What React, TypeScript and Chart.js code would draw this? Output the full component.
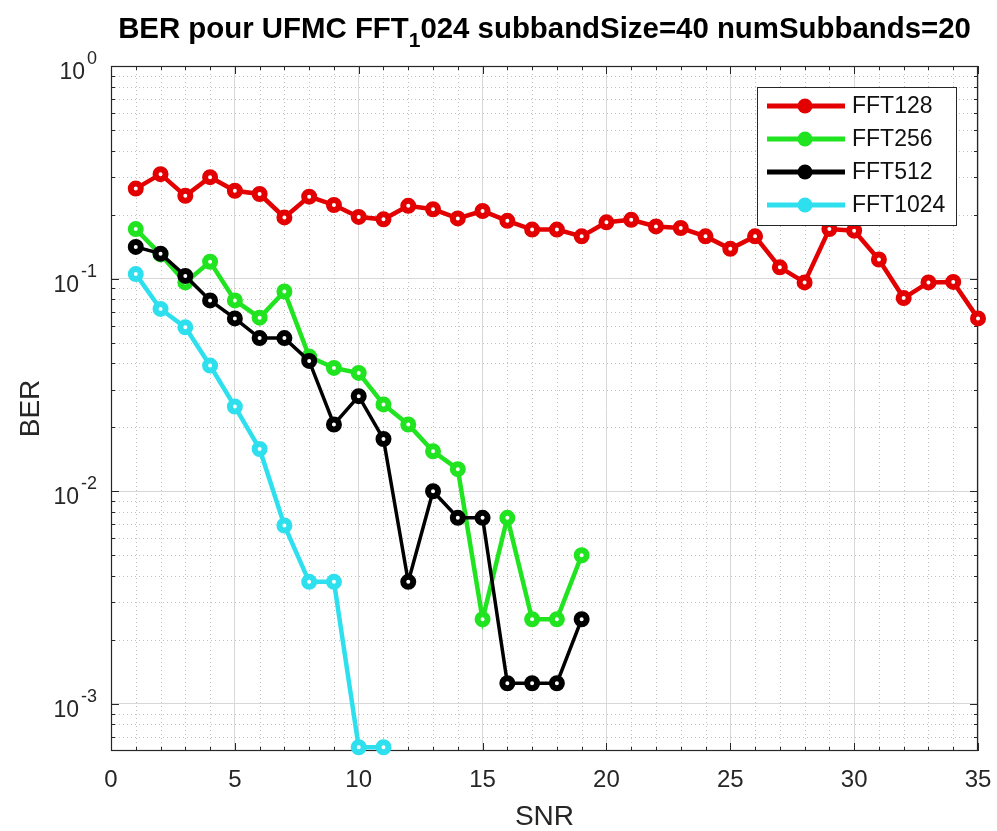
import React, { useEffect, useRef } from 'react';
import { Chart, registerables } from 'chart.js';

Chart.register(...registerables);

const FONT = '"Liberation Sans", Arial, Helvetica, sans-serif';

const snr = [1, 2, 3, 4, 5, 6, 7, 8, 9, 10, 11, 12, 13, 14, 15, 16, 17, 18, 19, 20, 21, 22, 23, 24, 25, 26, 27, 28, 29, 30, 31, 32, 33, 34, 35];

const berFFT128 = [0.265, 0.31, 0.245, 0.3, 0.259, 0.25, 0.194, 0.243, 0.222, 0.195, 0.19, 0.22, 0.212, 0.192, 0.208, 0.187, 0.17, 0.17, 0.158, 0.184, 0.189, 0.176, 0.173, 0.158, 0.138, 0.158, 0.113, 0.096, 0.171, 0.168, 0.123, 0.081, 0.096, 0.0965, 0.065];
const berFFT256 = [0.171, 0.13, 0.096, 0.12, 0.079, 0.0655, 0.087, 0.043, 0.038, 0.036, 0.0256, 0.0206, 0.0154, 0.0127, 0.0025, 0.0075, 0.0025, 0.0025, 0.005];
const berFFT512 = [0.141, 0.131, 0.103, 0.079, 0.065, 0.0525, 0.0525, 0.041, 0.0206, 0.028, 0.0176, 0.00375, 0.01, 0.0075, 0.0075, 0.00125, 0.00125, 0.00125, 0.0025];
const berFFT1024 = [0.105, 0.072, 0.059, 0.039, 0.025, 0.0158, 0.0069, 0.00375, 0.00375, 0.000625, 0.000625];

const seriesLabels = ['FFT128', 'FFT256', 'FFT512', 'FFT1024'];
const seriesColors = ['#e20000', '#20e420', '#000000', '#2ee0ee'];
const seriesValues = [berFFT128, berFFT256, berFFT512, berFFT1024];

const xTickValues = [0, 5, 10, 15, 20, 25, 30, 35];
const yDecades = [1, 0.1, 0.01, 0.001];
const yExponents = ['0', '-1', '-2', '-3'];

const titleStart = 'BER pour UFMC FFT';
const titleSub = '1';
const titleEnd = '024 subbandSize=40 numSubbands=20';

const X_MIN = 0;
const X_MAX = 35;
const Y_MIN = 0.000625;
const Y_MAX = 1;

const matlabPlugin = {
  id: 'matlabAxes',
  beforeDatasetsDraw(chart: any) {
    const { ctx, chartArea: a, scales } = chart;
    const x = scales.x;
    const y = scales.y;
    ctx.save();
    // minor grid (dotted)
    ctx.strokeStyle = '#c2c2c2';
    ctx.lineWidth = 1;
    ctx.setLineDash([1, 3]);
    for (let v = X_MIN + 1; v < X_MAX; v++) {
      if (v % 5 === 0) continue;
      const px = Math.round(x.getPixelForValue(v)) + 0.5;
      ctx.beginPath();
      ctx.moveTo(px, a.top);
      ctx.lineTo(px, a.bottom);
      ctx.stroke();
    }
    const minorY: number[] = [];
    for (const d of [0.0001, 0.001, 0.01, 0.1]) {
      for (let m = 2; m <= 9; m++) {
        const v = m * d;
        if (v > Y_MIN && v < Y_MAX) minorY.push(v);
      }
    }
    for (const v of minorY) {
      const py = Math.round(y.getPixelForValue(v)) + 0.5;
      ctx.beginPath();
      ctx.moveTo(a.left, py);
      ctx.lineTo(a.right, py);
      ctx.stroke();
    }
    ctx.setLineDash([]);
    // box
    ctx.strokeStyle = '#262626';
    ctx.lineWidth = 1.2;
    ctx.strokeRect(a.left + 0.5, a.top + 0.5, a.right - a.left - 1, a.bottom - a.top - 1);
    // ticks (inward)
    ctx.lineWidth = 1;
    const tickX = (v: number, len: number) => {
      const px = Math.round(x.getPixelForValue(v)) + 0.5;
      ctx.beginPath();
      ctx.moveTo(px, a.bottom);
      ctx.lineTo(px, a.bottom - len);
      ctx.moveTo(px, a.top);
      ctx.lineTo(px, a.top + len);
      ctx.stroke();
    };
    const tickY = (v: number, len: number) => {
      const py = Math.round(y.getPixelForValue(v)) + 0.5;
      ctx.beginPath();
      ctx.moveTo(a.left, py);
      ctx.lineTo(a.left + len, py);
      ctx.moveTo(a.right, py);
      ctx.lineTo(a.right - len, py);
      ctx.stroke();
    };
    for (let v = X_MIN; v <= X_MAX; v++) tickX(v, v % 5 === 0 ? 8 : 4);
    for (const v of yDecades) tickY(v, 8);
    for (const v of minorY) tickY(v, 4);
    ctx.restore();
  },
  afterDraw(chart: any) {
    const { ctx, chartArea: a, scales } = chart;
    const y = scales.y;
    ctx.save();
    // y tick labels with superscript exponents
    ctx.fillStyle = '#262626';
    ctx.textAlign = 'right';
    ctx.textBaseline = 'alphabetic';
    yDecades.forEach((v, i) => {
      const py = y.getPixelForValue(v);
      ctx.font = `18px ${FONT}`;
      const ew = ctx.measureText(yExponents[i]).width;
      const expRight = a.left - 14;
      ctx.fillText(yExponents[i], expRight, py - 2);
      ctx.font = `23px ${FONT}`;
      ctx.fillText('10', expRight - ew - 2, py + 13);
    });
    // title with subscript
    ctx.fillStyle = '#000000';
    ctx.textAlign = 'left';
    const bigFont = `bold 29.4px ${FONT}`;
    const subFont = `bold 21px ${FONT}`;
    ctx.font = bigFont;
    const w1 = ctx.measureText(titleStart).width;
    const w3 = ctx.measureText(titleEnd).width;
    ctx.font = subFont;
    const w2 = ctx.measureText(titleSub).width;
    const cx = (a.left + a.right) / 2;
    let tx = cx - (w1 + w2 + w3) / 2;
    const base = 38;
    ctx.font = bigFont;
    ctx.fillText(titleStart, tx, base);
    tx += w1;
    ctx.font = subFont;
    ctx.fillText(titleSub, tx, base + 9);
    tx += w2;
    ctx.font = bigFont;
    ctx.fillText(titleEnd, tx, base);
    // legend
    const lx = 757, ly = 87, lw = 199, lh = 138;
    ctx.fillStyle = '#ffffff';
    ctx.fillRect(lx, ly, lw, lh);
    ctx.strokeStyle = '#262626';
    ctx.lineWidth = 1;
    ctx.strokeRect(lx + 0.5, ly + 0.5, lw, lh);
    seriesLabels.forEach((lab, i) => {
      const ey = ly + 19 + i * 33;
      ctx.strokeStyle = seriesColors[i];
      ctx.lineWidth = 5;
      ctx.beginPath();
      ctx.moveTo(lx + 10, ey);
      ctx.lineTo(lx + 88, ey);
      ctx.stroke();
      ctx.fillStyle = seriesColors[i];
      ctx.beginPath();
      ctx.arc(lx + 48, ey, 7.5, 0, Math.PI * 2);
      ctx.fill();
      ctx.fillStyle = '#111111';
      ctx.font = `23px ${FONT}`;
      ctx.textBaseline = 'middle';
      ctx.fillText(lab, lx + 95, ey + 1);
      ctx.textBaseline = 'alphabetic';
    });
    ctx.restore();
  },
};

export default function App() {
  const canvasRef = useRef<HTMLCanvasElement | null>(null);

  useEffect(() => {
    if (!canvasRef.current) return;
    const datasets = seriesValues.map((vals, i) => ({
      label: seriesLabels[i],
      data: vals.map((v, j) => ({ x: snr[j], y: v })),
      borderColor: seriesColors[i],
      backgroundColor: '#ffffff',
      borderWidth: i === 2 ? 3.5 : 4.5,
      pointRadius: 5,
      pointBorderWidth: 6,
      pointBackgroundColor: '#ffffff',
      pointBorderColor: seriesColors[i],
      pointStyle: 'circle',
      order: 4 - i,
      clip: false,
      tension: 0,
    }));
    const chart = new Chart(canvasRef.current, {
      type: 'line',
      data: { datasets },
      plugins: [matlabPlugin],
      options: {
        animation: false,
        responsive: false,
        devicePixelRatio: 1,
        layout: { padding: { top: 66, right: 19, bottom: 0, left: 0 } },
        font: { family: FONT },
        plugins: {
          legend: { display: false },
          title: { display: false },
          tooltip: { enabled: false },
        },
        scales: {
          x: {
            type: 'linear',
            min: X_MIN,
            max: X_MAX,
            afterBuildTicks: (s: any) => {
              s.ticks = xTickValues.map((v) => ({ value: v }));
            },
            afterFit: (s: any) => {
              s.height = 80;
              s.paddingLeft = 0;
              s.paddingRight = 0;
            },
            ticks: {
              font: { family: FONT, size: 24 },
              color: '#262626',
              padding: 15,
              maxRotation: 0,
              autoSkip: false,
            },
            grid: { color: '#d8d8d8', drawTicks: false, lineWidth: 1 },
            border: { display: false },
            title: {
              display: true,
              text: 'SNR',
              color: '#262626',
              font: { family: FONT, size: 28, lineHeight: 1 },
              padding: { top: 0, bottom: 0 },
            },
          },
          y: {
            type: 'logarithmic',
            min: Y_MIN,
            max: Y_MAX,
            afterBuildTicks: (s: any) => {
              s.ticks = yDecades.map((v) => ({ value: v }));
            },
            afterFit: (s: any) => {
              s.width = 111;
              s.paddingTop = 0;
              s.paddingBottom = 0;
            },
            ticks: { display: false },
            grid: { color: '#d8d8d8', drawTicks: false, lineWidth: 1 },
            border: { display: false },
            title: {
              display: true,
              text: 'BER',
              color: '#262626',
              font: { family: FONT, size: 28 },
              padding: { top: 14, bottom: 0 },
            },
          },
        },
      },
    });
    return () => chart.destroy();
  }, []);

  return (
    <div style={{ position: 'absolute', left: 0, top: 0, width: 997, height: 831, background: '#ffffff' }}>
      <canvas ref={canvasRef} width={997} height={831} style={{ width: 997, height: 831, display: 'block' }} />
    </div>
  );
}
